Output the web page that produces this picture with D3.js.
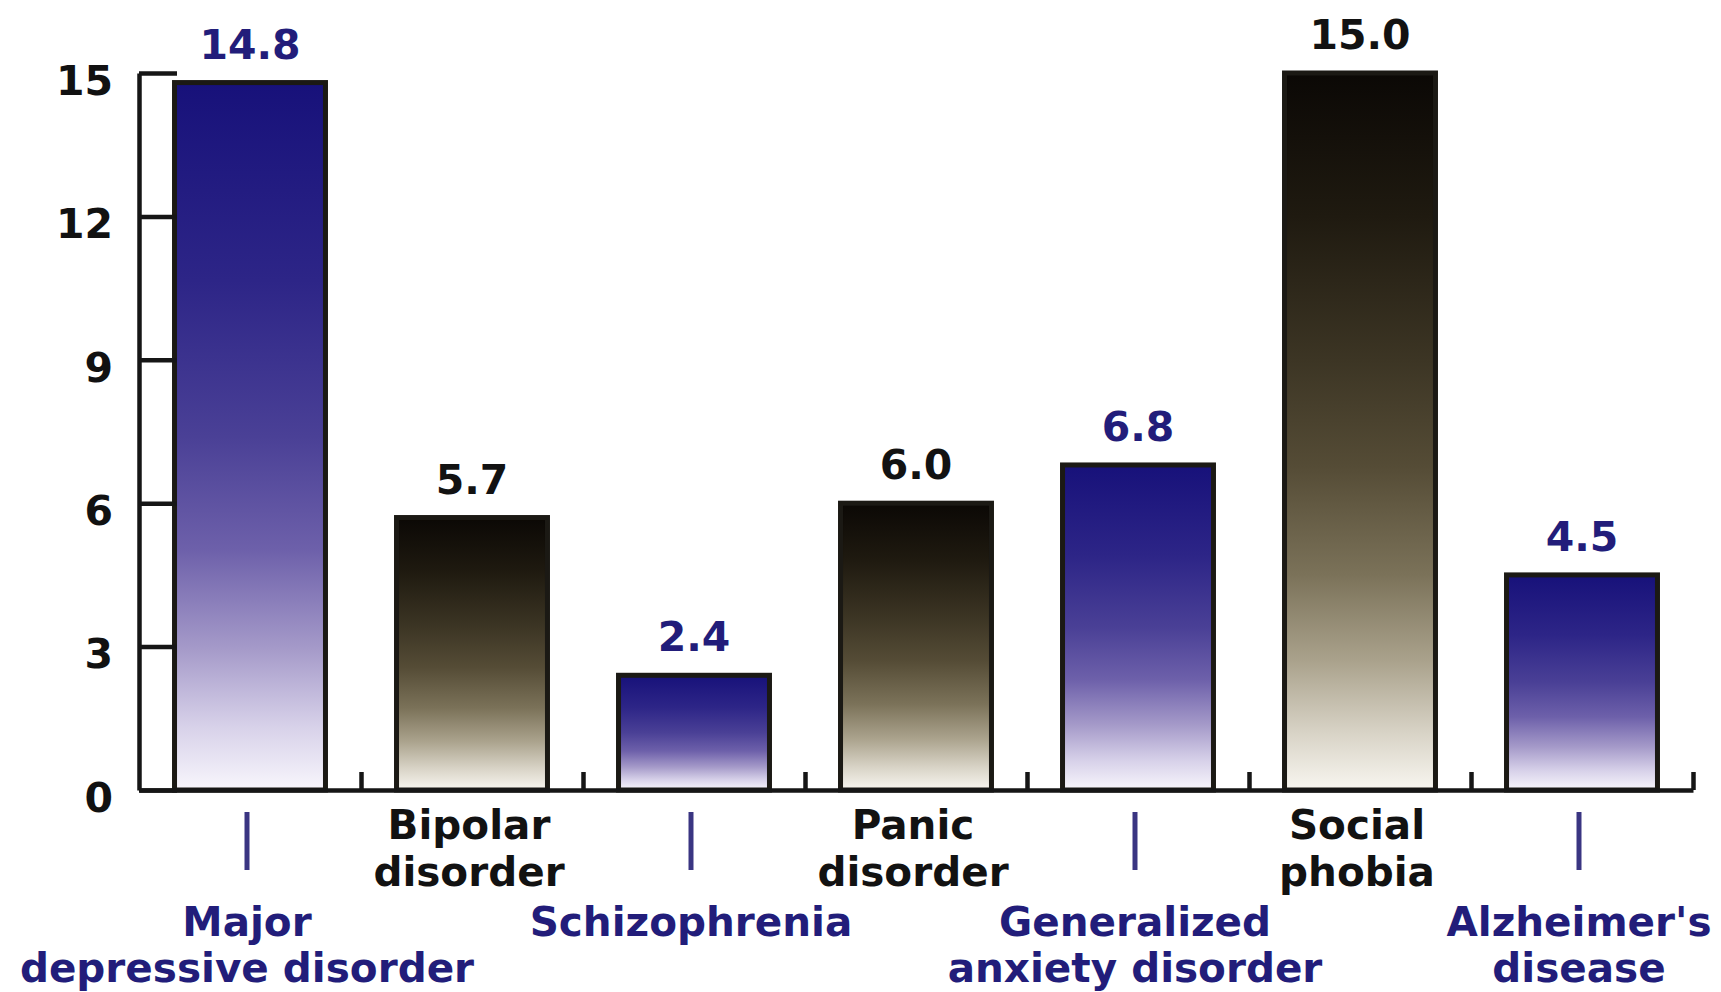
<!DOCTYPE html>
<html>
<head>
<meta charset="utf-8">
<script src="https://cdn.jsdelivr.net/npm/d3@7"></script>
<style>
  html, body { margin: 0; padding: 0; background: #ffffff; }
  svg { display: block; }
  text { font-family: "DejaVu Sans", Verdana, sans-serif; font-weight: bold; }
</style>
</head>
<body>
<svg id="chart" width="1721" height="992"></svg>
<script>
// Prevalence figures per disorder
const categories = [
  "Major depressive disorder",
  "Bipolar disorder",
  "Schizophrenia",
  "Panic disorder",
  "Generalized anxiety disorder",
  "Social phobia",
  "Alzheimer's disease"
];
const labelLines = [
  ["Major", "depressive disorder"],
  ["Bipolar", "disorder"],
  ["Schizophrenia"],
  ["Panic", "disorder"],
  ["Generalized", "anxiety disorder"],
  ["Social", "phobia"],
  ["Alzheimer's", "disease"]
];
const values = [14.8, 5.7, 2.4, 6.0, 6.8, 15.0, 4.5];
const valueLabels = ["14.8", "5.7", "2.4", "6.0", "6.8", "15.0", "4.5"];
const palettes = ["blue", "dark", "blue", "dark", "blue", "dark", "blue"];
const yTicks = [0, 3, 6, 9, 12, 15];

const svg = d3.select("#chart");
const plotLeft = 139, plotRight = 1693, plotTop = 73, plotBase = 790;

const x = d3.scaleBand()
  .domain(categories)
  .range([plotLeft, plotRight])
  .paddingInner(0.32)
  .paddingOuter(0.16);

const y = d3.scaleLinear().domain([0, 15]).range([plotBase, plotTop]);

// Vertical gradients for the two bar styles
const defs = svg.append("defs");
const gradStops = {
  blue: [
    [0, "#17117a"], [0.28, "#2d2587"], [0.5, "#4a4096"], [0.66, "#6d60aa"],
    [0.8, "#a59ac9"], [0.91, "#d7d1e9"], [1, "#f8f6fc"]
  ],
  dark: [
    [0, "#0b0805"], [0.2, "#1f1a10"], [0.4, "#3c3524"], [0.55, "#554c36"],
    [0.7, "#7b7259"], [0.82, "#aaa28c"], [0.92, "#d8d3c6"], [1, "#f8f6f0"]
  ]
};
Object.entries(gradStops).forEach(([key, stops]) => {
  const g = defs.append("linearGradient")
    .attr("id", "grad-" + key)
    .attr("x1", 0).attr("y1", 0).attr("x2", 0).attr("y2", 1);
  stops.forEach(([o, c]) => g.append("stop").attr("offset", o).attr("stop-color", c));
});

const labelColor = { blue: "#221d7a", dark: "#121212" };
const data = categories.map((c, i) => ({
  cat: c, v: values[i], label: valueLabels[i], pal: palettes[i], lines: labelLines[i], i
}));

// Bars
svg.append("g").selectAll("rect")
  .data(data)
  .join("rect")
  .attr("x", d => x(d.cat))
  .attr("y", d => y(d.v))
  .attr("width", x.bandwidth())
  .attr("height", d => y(0) - y(d.v))
  .attr("fill", d => "url(#grad-" + d.pal + ")")
  .attr("stroke", "#1b1914")
  .attr("stroke-width", 5);

// Value labels above bars
svg.append("g").selectAll("text")
  .data(data)
  .join("text")
  .attr("x", d => x(d.cat) + x.bandwidth() / 2)
  .attr("y", d => y(d.v) - 24)
  .attr("text-anchor", "middle")
  .attr("font-size", 41)
  .attr("fill", d => labelColor[d.pal])
  .text(d => d.label);

// Y axis with inward ticks
const yAxis = d3.axisLeft(y)
  .tickValues(yTicks)
  .tickFormat(d3.format("d"))
  .tickSizeInner(-38)
  .tickSizeOuter(0)
  .tickPadding(26);
const gy = svg.append("g").attr("transform", `translate(${plotLeft},0)`).call(yAxis);
gy.select(".domain").attr("stroke", "#161616").attr("stroke-width", 4.5);
gy.selectAll(".tick line").attr("stroke", "#161616").attr("stroke-width", 4.5);
gy.selectAll(".tick text")
  .attr("font-size", 41)
  .attr("font-family", "'DejaVu Sans', sans-serif")
  .attr("font-weight", "bold")
  .attr("fill", "#111")
  .attr("dy", "0.52em");

// X axis: baseline with short upward ticks at band boundaries
const xEdge = d3.scaleLinear().domain([0, categories.length]).range([plotLeft, plotRight]);
const xAxis = d3.axisBottom(xEdge)
  .tickValues(d3.range(1, categories.length + 1))
  .tickFormat("")
  .tickSizeInner(-18)
  .tickSizeOuter(0);
const gx = svg.append("g").attr("transform", `translate(0,${plotBase})`).call(xAxis);
gx.select(".domain").attr("stroke", "#161616").attr("stroke-width", 4.5);
gx.selectAll(".tick line").attr("stroke", "#161616").attr("stroke-width", 4.5);

// Category labels: dark ones sit under the axis, blue ones lower with a connector
const cx = d => x(d.cat) + x.bandwidth() / 2;
const catG = svg.append("g");
data.forEach(d => {
  const isBlue = d.pal === "blue";
  if (isBlue) {
    catG.append("line")
      .attr("x1", cx(d) - 3).attr("x2", cx(d) - 3)
      .attr("y1", 812).attr("y2", 870)
      .attr("stroke", "#3a3582")
      .attr("stroke-width", 5);
  }
  const t = catG.append("text")
    .attr("text-anchor", "middle")
    .attr("font-size", 40.5)
    .attr("fill", labelColor[d.pal]);
  const y0 = isBlue ? 936 : 839;
  d.lines.forEach((ln, k) => {
    t.append("tspan")
      .attr("x", cx(d) - 3)
      .attr("y", y0 + k * (isBlue ? 46 : 47))
      .text(ln);
  });
});
</script>
</body>
</html>
